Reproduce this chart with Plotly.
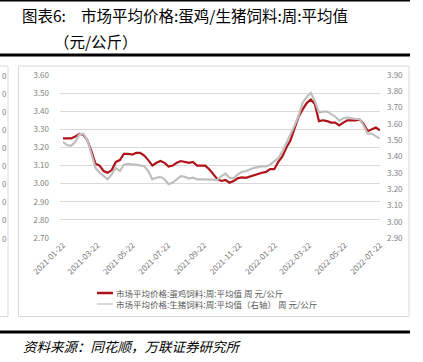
import pandas as pd
import plotly.graph_objects as go

# ---- data (weekly) ----
start_date = "2021-01-22"
egg_feed = [3.25, 3.25, 3.25, 3.26, 3.275, 3.27, 3.24, 3.18, 3.11, 3.10,
            3.07, 3.06, 3.075, 3.12, 3.13, 3.165, 3.165, 3.16, 3.17, 3.17,
            3.155, 3.13, 3.10, 3.115, 3.125, 3.115, 3.095, 3.10, 3.115, 3.125,
            3.12, 3.115, 3.12, 3.10, 3.10, 3.10, 3.08, 3.05, 3.025, 3.015,
            3.02, 3.005, 3.015, 3.03, 3.035, 3.032, 3.04, 3.045, 3.052, 3.06,
            3.065, 3.08, 3.08, 3.12, 3.15, 3.20, 3.24, 3.30, 3.37, 3.41,
            3.445, 3.465, 3.44, 3.345, 3.35, 3.345, 3.337, 3.337, 3.322, 3.337,
            3.35, 3.35, 3.35, 3.355, 3.33, 3.29, 3.30, 3.31, 3.295]
pig_feed = [3.49, 3.47, 3.465, 3.49, 3.535, 3.54, 3.50, 3.42, 3.33, 3.30,
            3.28, 3.26, 3.29, 3.33, 3.31, 3.35, 3.355, 3.35, 3.35, 3.345,
            3.34, 3.31, 3.26, 3.27, 3.275, 3.26, 3.23, 3.24, 3.26, 3.28,
            3.275, 3.265, 3.27, 3.26, 3.26, 3.26, 3.26, 3.258, 3.255, 3.28,
            3.295, 3.27, 3.265, 3.29, 3.305, 3.31, 3.32, 3.33, 3.335, 3.34,
            3.34, 3.35, 3.37, 3.39, 3.43, 3.48, 3.53, 3.59, 3.65, 3.73,
            3.765, 3.79, 3.74, 3.67, 3.675, 3.675, 3.66, 3.645, 3.62, 3.635,
            3.64, 3.635, 3.63, 3.63, 3.59, 3.54, 3.54, 3.525, 3.51]
x_ticks = ["2021-01-22", "2021-03-22", "2021-05-22", "2021-07-22", "2021-09-22",
           "2021-11-22", "2022-01-22", "2022-03-22", "2022-05-22", "2022-07-22"]
egg_name = "市场平均价格:蛋鸡饲料:周:平均值 周 元/公斤"
pig_name = "市场平均价格:生猪饲料:周:平均值（右轴） 周 元/公斤"
title_1a = "图表6:"
title_1b = "市场平均价格:蛋鸡/生猪饲料:周:平均值"
title_2 = "（元/公斤）"
source = "资料来源：同花顺，万联证券研究所"

dates = pd.date_range(start=start_date, periods=len(egg_feed), freq="7D")

W, H = 423, 362
L, R, T, B = 60, 380, 75, 238
def PX(x): return (x - L) / (R - L)
def PY(y): return (B - y) / (B - T)

RED = "#B01217"
GRAY = "#BFBFBF"
TXT = "#7F7F7F"
CJK = "Noto Sans CJK SC"

fig = go.Figure()
fig.add_trace(go.Scatter(x=dates, y=pig_feed, name=pig_name, yaxis="y2",
                         mode="lines", line=dict(color=GRAY, width=2.2)))
fig.add_trace(go.Scatter(x=dates, y=egg_feed, name=egg_name, yaxis="y",
                         mode="lines", line=dict(color=RED, width=2.2)))

fig.update_layout(
    width=W, height=H,
    margin=dict(l=L, r=W - R, t=T, b=H - B, pad=0),
    paper_bgcolor="white", plot_bgcolor="white",
    showlegend=False,
    font=dict(family=CJK, size=8, color=TXT),
    xaxis=dict(type="date", range=["2021-01-16 20:00", "2022-07-22 06:00"],
               tickvals=x_ticks, ticktext=x_ticks, tickangle=-45,
               showgrid=False, zeroline=False, showline=False, ticks="",
               tickfont=dict(size=8, color="#737373", family=CJK)),
    yaxis=dict(range=[2.70, 3.60], dtick=0.1, tickformat=".2f",
               showgrid=True, gridcolor="#D9D9D9", gridwidth=1,
               zeroline=False, showline=False, ticks="", ticklabelstandoff=10,
               tickfont=dict(size=8, color=TXT, family=CJK)),
    yaxis2=dict(range=[2.90, 3.90], dtick=0.1, tickformat=".2f",
                overlaying="y", side="right", showgrid=False,
                zeroline=False, showline=False, ticks="", ticklabelstandoff=6,
                tickfont=dict(size=8, color=TXT, family=CJK)),
)

shapes = []
# panel boxes
shapes.append(dict(type="rect", xref="paper", yref="paper",
                   x0=PX(18.5), x1=PX(409), y0=PY(316.5), y1=PY(66),
                   line=dict(color="#D9D9D9", width=1), layer="below"))
shapes.append(dict(type="rect", xref="paper", yref="paper",
                   x0=PX(-40), x1=PX(8), y0=PY(316.5), y1=PY(66),
                   line=dict(color="#D9D9D9", width=1), layer="below"))
# black rules
shapes.append(dict(type="line", xref="paper", yref="paper",
                   x0=PX(0), x1=PX(410), y0=PY(0.7), y1=PY(0.7),
                   line=dict(color="black", width=1.5)))
shapes.append(dict(type="line", xref="paper", yref="paper",
                   x0=PX(0), x1=PX(410), y0=PY(55), y1=PY(55),
                   line=dict(color="black", width=3)))
shapes.append(dict(type="line", xref="paper", yref="paper",
                   x0=PX(0), x1=PX(410), y0=PY(332), y1=PY(332),
                   line=dict(color="black", width=3)))
# legend keys
shapes.append(dict(type="line", xref="paper", yref="paper",
                   x0=PX(97), x1=PX(113), y0=PY(293), y1=PY(293),
                   line=dict(color=RED, width=2.5)))
shapes.append(dict(type="line", xref="paper", yref="paper",
                   x0=PX(97), x1=PX(113), y0=PY(304), y1=PY(304),
                   line=dict(color=GRAY, width=1.2)))
fig.update_layout(shapes=shapes)

ann = []
def text(x, y, s, size, color="black", anchor="left", style="normal"):
    ann.append(dict(xref="paper", yref="paper", x=PX(x), y=PY(y), text=s,
                    showarrow=False, xanchor=anchor, yanchor="middle",
                    borderpad=0,
                    font=dict(family=CJK, size=size, color=color, style=style)))

text(21, 15, title_1a, 15.5)
text(80, 15, title_1b, 15.5)
text(53, 41, title_2, 15.5)
text(115, 293, egg_name, 8.5, "#595959")
text(115, 304, pig_name, 8.5, "#595959")
text(22, 346, source, 13.5, "black", style="italic")
# labels of the neighbouring panel at the far left
for k in range(10):
    text(0.5, 75 + k * (B - T) / 9, "0", 8, TXT, anchor="left")
fig.update_layout(annotations=ann)

fig.write_html("out.html")
